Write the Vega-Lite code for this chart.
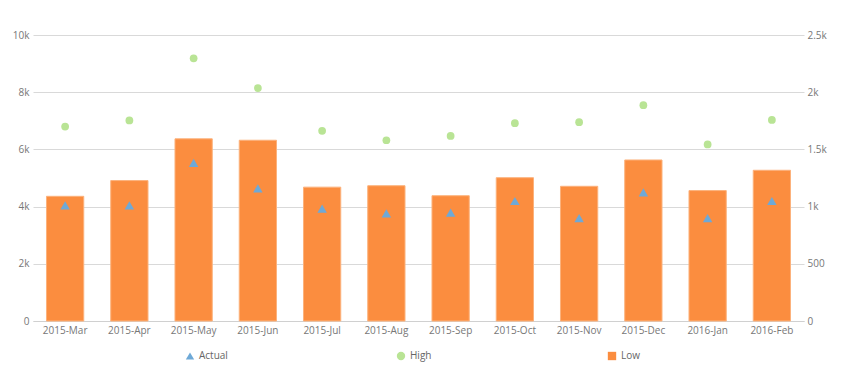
{
  "$schema": "https://vega.github.io/schema/vega-lite/v6.json",
  "width": 771,
  "height": 286,
  "autosize": "none",
  "padding": {"left": 33, "top": 35, "right": 39, "bottom": 52},
  "config": {
    "font": "Open Sans",
    "view": {"stroke": null},
    "axis": {"labelColor": "#777777", "labelFontSize": 10, "gridColor": "#d9d9d9", "tickColor": "#d9d9d9", "domain": false, "ticks": false, "title": null}
  },
  "data": {
    "values": [
      {"month": "2015-Mar", "series": "Low", "value": 4360},
      {"month": "2015-Apr", "series": "Low", "value": 4910},
      {"month": "2015-May", "series": "Low", "value": 6370},
      {"month": "2015-Jun", "series": "Low", "value": 6320},
      {"month": "2015-Jul", "series": "Low", "value": 4680},
      {"month": "2015-Aug", "series": "Low", "value": 4730},
      {"month": "2015-Sep", "series": "Low", "value": 4380},
      {"month": "2015-Oct", "series": "Low", "value": 5010},
      {"month": "2015-Nov", "series": "Low", "value": 4710},
      {"month": "2015-Dec", "series": "Low", "value": 5630},
      {"month": "2016-Jan", "series": "Low", "value": 4560},
      {"month": "2016-Feb", "series": "Low", "value": 5270},
      {"month": "2015-Mar", "series": "High", "value": 1700},
      {"month": "2015-Apr", "series": "High", "value": 1753},
      {"month": "2015-May", "series": "High", "value": 2296},
      {"month": "2015-Jun", "series": "High", "value": 2036},
      {"month": "2015-Jul", "series": "High", "value": 1662},
      {"month": "2015-Aug", "series": "High", "value": 1580},
      {"month": "2015-Sep", "series": "High", "value": 1618},
      {"month": "2015-Oct", "series": "High", "value": 1729},
      {"month": "2015-Nov", "series": "High", "value": 1738},
      {"month": "2015-Dec", "series": "High", "value": 1887},
      {"month": "2016-Jan", "series": "High", "value": 1543},
      {"month": "2016-Feb", "series": "High", "value": 1758},
      {"month": "2015-Mar", "series": "Actual", "value": 1011},
      {"month": "2015-Apr", "series": "Actual", "value": 1011},
      {"month": "2015-May", "series": "Actual", "value": 1382},
      {"month": "2015-Jun", "series": "Actual", "value": 1160},
      {"month": "2015-Jul", "series": "Actual", "value": 982},
      {"month": "2015-Aug", "series": "Actual", "value": 941},
      {"month": "2015-Sep", "series": "Actual", "value": 947},
      {"month": "2015-Oct", "series": "Actual", "value": 1049},
      {"month": "2015-Nov", "series": "Actual", "value": 900},
      {"month": "2015-Dec", "series": "Actual", "value": 1125},
      {"month": "2016-Jan", "series": "Actual", "value": 900},
      {"month": "2016-Feb", "series": "Actual", "value": 1049}
    ]
  },
  "encoding": {
    "x": {
      "field": "month", "type": "ordinal", "sort": null,
      "scale": {"paddingInner": 0.42},
      "axis": {"labelAngle": 0, "labelPadding": 4, "grid": false, "domain": true, "domainColor": "#d0d0d0"}
    }
  },
  "layer": [
    {
      "transform": [{"filter": "datum.series === 'Low'"}],
      "mark": {"type": "bar", "stroke": "#fcb27c", "strokeWidth": 1},
      "encoding": {
        "y": {"field": "value", "type": "quantitative", "scale": {"domain": [0, 10000]},
              "axis": {"orient": "left", "values": [0, 2000, 4000, 6000, 8000, 10000], "grid": true, "labelPadding": 4,
                       "labelExpr": "datum.value === 0 ? '0' : (datum.value / 1000) + 'k'"}},
        "color": {"field": "series", "type": "nominal",
                  "scale": {"domain": ["Actual", "High", "Low"], "range": ["#6EA9D7", "#B9E495", "#FB8D3F"]},
                  "legend": {"orient": "none", "legendX": 152, "legendY": 316, "direction": "horizontal", "title": null,
                             "gridAlign": "all", "columnPadding": 168, "padding": 0, "labelFontSize": 10, "labelColor": "#666666",
                             "symbolSize": 70, "labelOffset": 4, "symbolStrokeWidth": 0}}
      }
    },
    {
      "encoding": {
        "y": {"field": "value", "type": "quantitative", "scale": {"domain": [0, 2500]},
              "axis": {"orient": "right", "values": [0, 500, 1000, 1500, 2000, 2500], "grid": false, "labelPadding": 3,
                       "labelExpr": "datum.value === 0 ? '0' : datum.value < 1000 ? '' + datum.value : (datum.value / 1000) + 'k'"}},
        "color": {"field": "series", "type": "nominal",
                  "scale": {"domain": ["Actual", "High", "Low"], "range": ["#6EA9D7", "#B9E495", "#FB8D3F"]}},
        "shape": {"field": "series", "type": "nominal",
                  "scale": {"domain": ["Actual", "High", "Low"], "range": ["triangle-up", "circle", "square"]}}
      },
      "layer": [
        {
          "transform": [{"filter": "datum.series === 'High'"}],
          "mark": {"type": "point", "filled": true, "opacity": 1, "size": 60}
        },
        {
          "transform": [{"filter": "datum.series === 'Actual'"}],
          "mark": {"type": "point", "filled": true, "opacity": 1, "size": 90}
        }
      ]
    }
  ],
  "resolve": {"scale": {"y": "independent"}}
}
